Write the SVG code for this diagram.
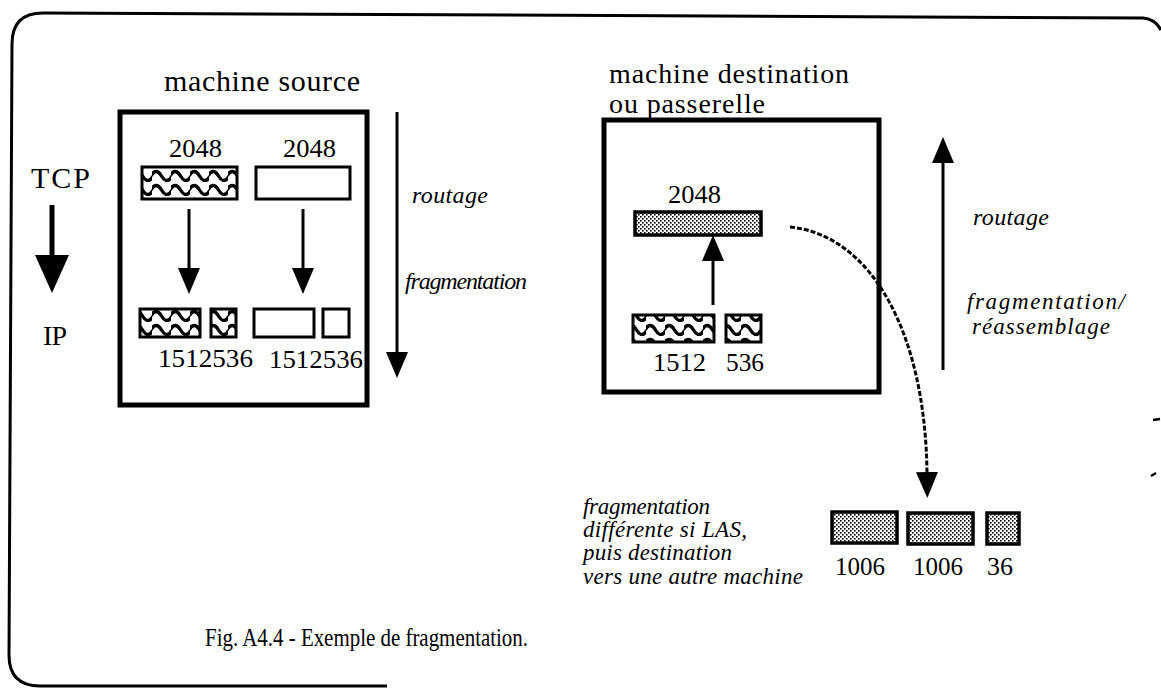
<svg xmlns="http://www.w3.org/2000/svg" width="1161" height="689" viewBox="0 0 1161 689">
<style>
text{font-family:"Liberation Serif","Times New Roman",serif;fill:#000}
.t30{font-size:30px}
.t29{font-size:28px}
.num{font-size:25px}
.it{font-size:24px;font-style:italic}
.it2{font-size:23px;font-style:italic}
.box{fill:none;stroke:#000;stroke-width:5}
.wav{fill:url(#wave);stroke:#000;stroke-width:3}
.wht{fill:#fff;stroke:#000;stroke-width:3}
.dot{fill:url(#dots);stroke:#000;stroke-width:3.5}
.ln{fill:none;stroke:#000;stroke-width:3}
</style>
<defs>
<pattern id="wave" patternUnits="userSpaceOnUse" width="19" height="14">
<rect width="19" height="14" fill="#fff"/>
<path d="M-1 8 C2 2,6 2,9.5 8 S17 14,20 8" fill="none" stroke="#000" stroke-width="3.4"/>
</pattern>
<pattern id="dots" patternUnits="userSpaceOnUse" width="4" height="4">
<rect width="4" height="4" fill="#fff"/>
<rect x="0" y="0" width="1.6" height="1.6" fill="#000"/>
<rect x="2" y="2" width="1.6" height="1.6" fill="#000"/>
</pattern>
<marker id="ah" markerUnits="userSpaceOnUse" markerWidth="26" markerHeight="22" refX="0" refY="11" orient="auto">
<path d="M0 0 L26 11 L0 22 z" fill="#000"/>
</marker>
<marker id="ahBig" markerUnits="userSpaceOnUse" markerWidth="38" markerHeight="34" refX="0" refY="17" orient="auto">
<path d="M0 0 L38 17 L0 34 z" fill="#000"/>
</marker>
</defs>
<rect width="1161" height="689" fill="#fff"/>
<g id="frame">
<path d="M387 686 L40 686 Q9 686 9 655 L12 44 Q12 13 43 13 L1143 18 Q1155 19 1161 30" fill="none" stroke="#000" stroke-width="3"/>
<path d="M1153 420 L1160 419" stroke="#000" stroke-width="2.5"/>
<path d="M1151 476 L1156 473" stroke="#000" stroke-width="2.5"/>
</g>
<g id="source">
<text class="t30" x="164" y="91" textLength="196">machine source</text>
<rect class="box" x="120" y="112" width="247" height="293"/>
<text class="num" x="169" y="157" textLength="53" lengthAdjust="spacingAndGlyphs">2048</text>
<text class="num" x="283" y="157" textLength="53" lengthAdjust="spacingAndGlyphs">2048</text>
<rect class="wav" x="142" y="167" width="95" height="32"/>
<rect class="wht" x="256" y="167" width="94" height="32"/>
<rect class="wav" x="140" y="309" width="60" height="28"/>
<rect class="wav" x="211" y="309" width="25" height="28"/>
<rect class="wht" x="254" y="309" width="60" height="28"/>
<rect class="wht" x="323" y="309" width="26" height="28"/>
<text class="num" x="158" y="367" textLength="95" lengthAdjust="spacingAndGlyphs">1512536</text>
<text class="num" x="269" y="368" textLength="94" lengthAdjust="spacingAndGlyphs">1512536</text>
</g>
<g id="layers">
<text class="t30" x="31" y="188" textLength="59">TCP</text>
<text style="font-size:28px" x="43" y="345" textLength="24">IP</text>
</g>
<g id="labels-left">
<text class="it" x="412" y="203" textLength="76">routage</text>
<text class="it" x="405" y="289" textLength="122">fragmentation</text>
</g>
<g id="destination">
<text class="t29" x="609" y="83" textLength="240">machine destination</text>
<text class="t29" x="609" y="113" textLength="156">ou passerelle</text>
<rect class="box" x="604" y="120" width="275" height="272"/>
<text class="num" x="668" y="203" textLength="53" lengthAdjust="spacingAndGlyphs">2048</text>
<rect class="dot" x="635" y="212" width="126" height="23"/>
<rect class="wav" x="633" y="315" width="81" height="27"/>
<rect class="wav" x="726" y="315" width="35" height="27"/>
<text class="num" x="653" y="371" textLength="53" lengthAdjust="spacingAndGlyphs">1512</text>
<text class="num" x="726" y="371" textLength="38" lengthAdjust="spacingAndGlyphs">536</text>
</g>
<g id="labels-right">
<text class="it" x="973" y="225" textLength="76">routage</text>
<text class="it2" x="967" y="309" textLength="158">fragmentation/</text>
<text class="it2" x="972" y="334" textLength="138">réassemblage</text>
</g>
<g id="las">
<text class="it2" x="583" y="514" textLength="127">fragmentation</text>
<text class="it2" x="583" y="537" textLength="164">différente si LAS,</text>
<text class="it2" x="583" y="560" textLength="149">puis destination</text>
<text class="it2" x="583" y="584" textLength="220">vers une autre machine</text>
<rect class="dot" x="832" y="512" width="65" height="31"/>
<rect class="dot" x="908" y="513" width="65" height="31"/>
<rect class="dot" x="987" y="513" width="32" height="31"/>
<text class="num" x="835" y="575" textLength="50" lengthAdjust="spacingAndGlyphs">1006</text>
<text class="num" x="913" y="575" textLength="50" lengthAdjust="spacingAndGlyphs">1006</text>
<text class="num" x="987" y="575" textLength="26" lengthAdjust="spacingAndGlyphs">36</text>
</g>
<g id="caption">
<text style="font-size:25px" x="205" y="646" textLength="323" lengthAdjust="spacingAndGlyphs">Fig. A4.4 - Exemple de fragmentation.</text>
</g>
<g id="connectors">
<line x1="52" y1="205" x2="52" y2="255" stroke="#000" stroke-width="5" marker-end="url(#ahBig)"/>
<line class="ln" x1="189" y1="209" x2="189" y2="268" marker-end="url(#ah)"/>
<line class="ln" x1="303" y1="209" x2="303" y2="268" marker-end="url(#ah)"/>
<line class="ln" x1="397" y1="112" x2="397" y2="352" marker-end="url(#ah)"/>
<line class="ln" x1="713" y1="305" x2="713" y2="261" marker-end="url(#ah)"/>
<line class="ln" x1="943" y1="370" x2="943" y2="163" marker-end="url(#ah)"/>
<path d="M790 227 C870 235,925 330,927 472" fill="none" stroke="#000" stroke-width="3" stroke-dasharray="5 2" marker-end="url(#ah)"/>
</g>
</svg>
